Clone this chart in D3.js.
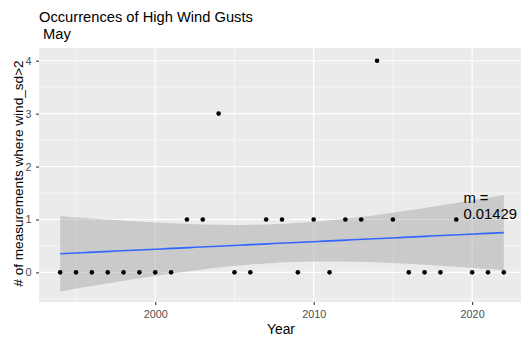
<!DOCTYPE html>
<html><head><meta charset="utf-8">
<script src="https://cdn.jsdelivr.net/npm/d3@7"></script>
<style>body{margin:0;background:#fff}text{font-family:"Liberation Sans",Arial,sans-serif}</style>
</head><body>
<svg id="c" width="521" height="342"></svg>
<script>
const years = [1994,1995,1996,1997,1998,1999,2000,2001,2002,2003,2004,2005,2006,2007,2008,2009,2010,2011,2012,2013,2014,2015,2016,2017,2018,2019,2020,2021,2022];
const counts = [0,0,0,0,0,0,0,0,1,1,3,0,0,1,1,0,1,0,1,1,4,1,0,0,0,1,0,0,0];
const xTicks = [2000,2010,2020];
const yTicks = [0,1,2,3,4];
const titleLines = ["Occurrences of High Wind Gusts", " May"];
const annotation = ["m =", "0.01429"];
const annoPos = [2019.45, 1.31];

const svg = d3.select("#c");
const W = 521;
const xs = d3.scaleLinear().domain([1992.6, 2023.4]).range([38, 526]);
const ys = d3.scaleLinear().domain([-0.56, 4.24]).range([302, 48]);

// panel
svg.append("defs").append("clipPath").attr("id","clip").append("rect")
  .attr("x",39).attr("y",48).attr("width",W-39).attr("height",302-48);
const g = svg.append("g").attr("clip-path","url(#clip)");
g.append("rect").attr("x",39).attr("y",48).attr("width",W-39).attr("height",254).attr("fill","#EBEBEB");
const xMinor = [1995,2005,2015], yMinor = [-0.5,0.5,1.5,2.5,3.5];
xMinor.forEach(v=>g.append("line").attr("x1",xs(v)).attr("x2",xs(v)).attr("y1",48).attr("y2",302).attr("stroke","#fff").attr("stroke-width",0.53));
yMinor.forEach(v=>g.append("line").attr("x1",39).attr("x2",W).attr("y1",ys(v)).attr("y2",ys(v)).attr("stroke","#fff").attr("stroke-width",0.53));
xTicks.forEach(v=>g.append("line").attr("x1",xs(v)).attr("x2",xs(v)).attr("y1",48).attr("y2",302).attr("stroke","#fff").attr("stroke-width",1.07));
yTicks.forEach(v=>g.append("line").attr("x1",39).attr("x2",W).attr("y1",ys(v)).attr("y2",ys(v)).attr("stroke","#fff").attr("stroke-width",1.07));

// linear fit with 95% CI
const n = years.length;
const mx = d3.mean(years), my = d3.mean(counts);
let sxx=0, sxy=0;
years.forEach((v,i)=>{sxx+=(v-mx)**2; sxy+=(v-mx)*(counts[i]-my);});
const b = sxy/sxx, a = my - b*mx;
let sse=0; years.forEach((v,i)=>{sse+=(counts[i]-(a+b*v))**2;});
const s = Math.sqrt(sse/(n-2));
const tq = 2.0518;
const grid = d3.range(80).map(i=>years[0]+(years[n-1]-years[0])*i/79);
const band = grid.map(v=>{const f=a+b*v; const se=s*Math.sqrt(1/n+(v-mx)**2/sxx); return {x:v,f,lo:f-tq*se,hi:f+tq*se};});
g.append("path").datum(band).attr("fill","#999999").attr("fill-opacity",0.4)
  .attr("d",d3.area().x(d=>xs(d.x)).y0(d=>ys(d.lo)).y1(d=>ys(d.hi)));
g.append("path").datum(band).attr("fill","none").attr("stroke","#3366FF").attr("stroke-width",1.6)
  .attr("d",d3.line().x(d=>xs(d.x)).y(d=>ys(d.f)));

// points
g.selectAll("circle.p").data(years).join("circle").attr("class","p")
  .attr("cx",d=>xs(d)).attr("cy",(d,i)=>ys(counts[i])).attr("r",2.3).attr("fill","#000");

// annotation
const at = svg.append("text").attr("x",xs(annoPos[0])).attr("y",ys(annoPos[1])).attr("font-size",14.8).attr("fill","#000");
annotation.forEach((t,i)=>at.append("tspan").attr("x",xs(annoPos[0])).attr("dy",i?16:0).text(t));

// axes
const xa = svg.append("g").attr("transform","translate(0,302)")
  .call(d3.axisBottom(xs).tickValues(xTicks).tickSize(3).tickPadding(5.5).tickFormat(d3.format("d")));
const ya = svg.append("g").attr("transform","translate(39,0)")
  .call(d3.axisLeft(ys).tickValues(yTicks).tickSize(3).tickPadding(4.5).tickFormat(d3.format("d")));
[xa,ya].forEach(ax=>{ax.select(".domain").remove();
  ax.selectAll(".tick line").attr("stroke","#333").attr("stroke-width",1.07);
  ax.selectAll(".tick text").attr("fill","#4D4D4D").attr("font-size",10.8).attr("font-family","Liberation Sans, Arial, sans-serif");});

// labels
svg.append("text").attr("x",281).attr("y",333.5).attr("text-anchor","middle").attr("font-size",13.8).text("Year");
svg.append("text").attr("transform","translate(23,173.5) rotate(-90)").attr("text-anchor","middle").attr("font-size",13.6).text("# of measurements where wind_sd>2");
const tt = svg.append("text").attr("x",39).attr("y",22).attr("font-size",14.7).attr("fill","#000");
titleLines.forEach((t,i)=>tt.append("tspan").attr("x",39).attr("dy",i?17:0).style("white-space","pre").text(t));
</script>
</body></html>
